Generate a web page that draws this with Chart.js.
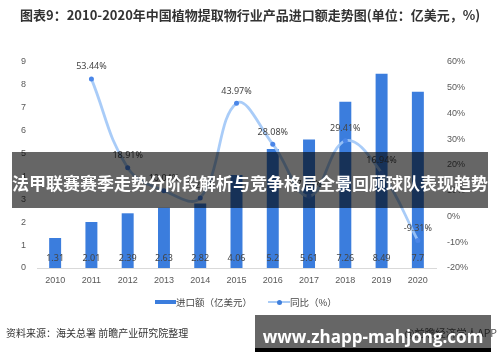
<!DOCTYPE html>
<html>
<head>
<meta charset="utf-8">
<script src="https://cdn.jsdelivr.net/npm/chart.js@4.4.1/dist/chart.umd.min.js"></script>
<style>
  html, body { margin: 0; padding: 0; background: #fff; }
  #wrap { position: relative; width: 500px; height: 362px; overflow: hidden;
          font-family: "Noto Sans CJK SC", "Noto Sans", sans-serif; }
  #chart { position: absolute; left: 0; top: 0; }
  .abs { position: absolute; white-space: nowrap; }
  #title { left: 20px; top: 5px; font-size: 13px; font-weight: bold; color: #333; }
  .legend { top: 295px; font-size: 9.5px; color: #444; line-height: 14px; }
  #source { left: 6px; top: 325px; font-size: 10px; color: #333; }
  #app { right: 3px; top: 325px; font-size: 10.5px; color: #555; }
  #banner { left: 12px; top: 152px; width: 476px; height: 56px; background: rgba(0,0,0,0.6);
            color: #fff; font-size: 17px; font-weight: bold; line-height: 62px; text-align: center; }
  #mark { left: 255px; top: 315px; width: 236px; height: 33px; background: rgba(0,0,0,0.6);
          border-bottom: 4px solid #000; color: #fff; font-family: "Open Sans", sans-serif;
          font-size: 17px; font-weight: bold; line-height: 44px; text-align: center; }
</style>
</head>
<body>
<div id="wrap">
  <canvas id="chart" width="500" height="362"></canvas>
  <div id="title" class="abs">图表9：2010-2020年中国植物提取物行业产品进口额走势图(单位：亿美元，%)</div>
  <div class="abs legend" style="left:155px;"><span style="display:inline-block;width:21px;height:4px;background:#3b7ddd;vertical-align:middle;margin-top:-2px;"></span>进口额（亿美元）</div>
  <div class="abs legend" style="left:268px;"><span style="display:inline-block;position:relative;width:22px;height:2px;background:#a9cbf6;vertical-align:middle;margin-top:-2px;"><span style="position:absolute;left:9px;top:-1.5px;width:5px;height:5px;border-radius:50%;background:#3f7fdc;"></span></span>同比（%）</div>
  <div id="source" class="abs">资料来源：海关总署 前瞻产业研究院整理</div>
  <div id="app" class="abs">@前瞻经济学人APP</div>
  <div id="banner" class="abs">法甲联赛赛季走势分阶段解析与竞争格局全景回顾球队表现趋势</div>
  <div id="mark" class="abs">www.zhapp-mahjong.com</div>
</div>
<script>
const years = ['2010', '2011', '2012', '2013', '2014', '2015', '2016', '2017', '2018', '2019', '2020'];
const importValues = [1.31, 2.01, 2.39, 2.63, 2.82, 4.06, 5.2, 5.61, 7.26, 8.49, 7.7];
const yoyValues = [null, 53.44, 18.91, 10.04, 7.22, 43.97, 28.08, 7.88, 29.41, 16.94, -9.31];
const leftTicks = [0, 1, 2, 3, 4, 5, 6, 7, 8, 9];
const rightTicks = [-20, -10, 0, 10, 20, 30, 40, 50, 60];

const valueLabels = {
    id: 'valueLabels',
    afterDatasetsDraw(chart) {
        const ctx = chart.ctx;
        ctx.save();
        ctx.font = '9px "Noto Sans", sans-serif';
        ctx.fillStyle = '#444';
        ctx.textAlign = 'center';
        ctx.textBaseline = 'middle';
        const y0 = chart.scales.y.getPixelForValue(0);
        chart.getDatasetMeta(0).data.forEach((el, i) => {
            ctx.fillText(String(importValues[i]), el.x, y0 - 10);
        });
        chart.getDatasetMeta(1).data.forEach((el, i) => {
            if (yoyValues[i] === null) return;
            ctx.fillText(yoyValues[i].toFixed(2) + '%', el.x, el.y - 12);
        });
        ctx.restore();
    }
};

new Chart(document.getElementById('chart'), {
    data: {
        labels: years,
        datasets: [
            {
                type: 'bar',
                label: '进口额（亿美元）',
                data: importValues,
                backgroundColor: '#3b7ddd',
                barPercentage: 0.66,
                categoryPercentage: 0.5,
                yAxisID: 'y',
                order: 2
            },
            {
                type: 'line',
                label: '同比（%）',
                data: yoyValues,
                borderColor: 'rgba(160,199,247,0.9)',
                borderWidth: 2.8,
                tension: 0.4,
                pointRadius: 2.5,
                pointBackgroundColor: '#4a86e8',
                pointBorderColor: '#4a86e8',
                pointBorderWidth: 0,
                yAxisID: 'y1',
                order: 1
            }
        ]
    },
    options: {
        responsive: false,
        animation: false,
        layout: { padding: { top: 62, left: 0, right: 0, bottom: 70 } },
        plugins: { legend: { display: false }, tooltip: { enabled: false } },
        scales: {
            x: {
                grid: { display: false, drawTicks: false },
                border: { color: '#d9d9d9' },
                ticks: { color: '#595959', font: { size: 9 }, padding: 7 },
                afterFit(s) { s.height = 24; }
            },
            y: {
                position: 'left',
                min: 0, max: 9,
                grid: { display: false, drawTicks: false },
                border: { display: false },
                afterBuildTicks(s) { s.ticks = leftTicks.map(v => ({ value: v })); },
                ticks: { color: '#595959', font: { size: 9 }, padding: 11 },
                afterFit(s) { s.width = 37; }
            },
            y1: {
                position: 'right',
                min: -20, max: 60,
                grid: { display: false, drawTicks: false },
                border: { display: false },
                afterBuildTicks(s) { s.ticks = rightTicks.map(v => ({ value: v })); },
                ticks: { color: '#595959', font: { size: 9 }, padding: 11, callback: v => v + '%' },
                afterFit(s) { s.width = 64; }
            }
        }
    },
    plugins: [valueLabels]
});
</script>
</body>
</html>
